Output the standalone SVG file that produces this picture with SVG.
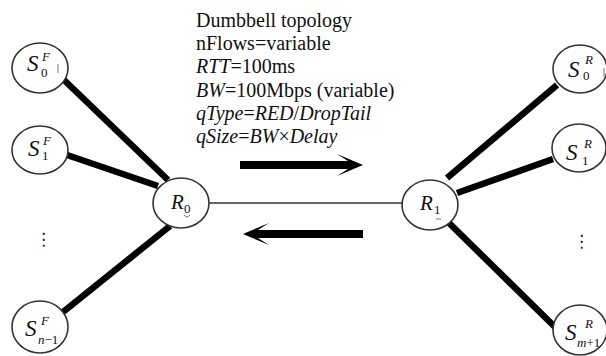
<svg xmlns="http://www.w3.org/2000/svg" width="606" height="356" viewBox="0 0 606 356">
<style>
.node ellipse{fill:#fff;stroke:#333;stroke-width:1.6}
.big{font-family:"Liberation Serif",serif;font-style:italic;font-size:23px;fill:#111}
.rl{font-family:"Liberation Serif",serif;font-style:italic;font-size:21px;fill:#111}
.sup{font-family:"Liberation Serif",serif;font-style:italic;font-size:13px;fill:#111}
.sub{font-family:"Liberation Serif",serif;font-size:13px;fill:#111}
.subi{font-family:"Liberation Serif",serif;font-style:italic;font-size:13px;fill:#111}
.info{font-family:"Liberation Serif",serif;font-size:20px;fill:#111}
.it{font-style:italic}
.thick{stroke:#000;stroke-width:6.5;stroke-linecap:butt}
.thin{stroke:#333;stroke-width:1.5}
.dots{font-family:"DejaVu Sans",sans-serif;font-size:17px;fill:#222}
.art{stroke:#777;stroke-width:1;fill:none}
</style>
<g id="connectors">
<line class="thick" x1="63" y1="79" x2="168" y2="180"/>
<line class="thick" x1="67" y1="155" x2="158" y2="186"/>
<line class="thick" x1="63" y1="312" x2="170" y2="226"/>
<line class="thin" x1="209" y1="203" x2="403" y2="203"/>
<line class="thick" x1="447" y1="178" x2="557" y2="85"/>
<line class="thick" x1="457" y1="193" x2="553" y2="159"/>
<line class="thick" x1="448" y1="222" x2="556" y2="328"/>
</g>
<g id="arrows">
<path d="M240,161 H348 L337,154 L363,165 L337,176 L348,169 H240 Z" fill="#000"/>
<path d="M363,230 H258 L269,223 L243,234 L269,245 L258,238 H363 Z" fill="#000"/>
</g>
<g id="info">
<text class="info" x="196" y="27">Dumbbell topology</text>
<text class="info" x="196" y="50">nFlows=variable</text>
<text class="info" x="196" y="73"><tspan class="it">RTT</tspan>=100ms</text>
<text class="info" x="196" y="97"><tspan class="it">BW</tspan>=100Mbps (variable)</text>
<text class="info" x="196" y="120"><tspan class="it">qType</tspan>=<tspan class="it">RED</tspan>/<tspan class="it">DropTail</tspan></text>
<text class="info" x="196" y="143"><tspan class="it">qSize</tspan>=<tspan class="it">BW</tspan>×<tspan class="it">Delay</tspan></text>
</g>
<g id="S0F" class="node">
<ellipse cx="40" cy="68" rx="28" ry="25"/>
<text class="big" x="27" y="71">S</text>
<text class="sup" x="42" y="61">F</text>
<text class="sub" x="41" y="77">0</text>
<line class="art" x1="58" y1="64" x2="58" y2="73"/>
</g>
<g id="S1F" class="node">
<ellipse cx="40" cy="150" rx="28" ry="24"/>
<text class="big" x="28" y="156">S</text>
<text class="sup" x="43" y="145">F</text>
<text class="sub" x="42" y="160">1</text>
</g>
<g id="Sn1F" class="node">
<ellipse cx="40" cy="327" rx="28" ry="26"/>
<text class="big" x="25" y="336">S</text>
<text class="sup" x="41" y="325">F</text>
<text class="subi" x="38" y="344">n<tspan font-style="normal">−1</tspan></text>
</g>
<g id="R0" class="node">
<ellipse cx="181" cy="203" rx="28" ry="25"/>
<text class="rl" x="171" y="209">R</text>
<text class="sub" x="184" y="213">0</text>
<path class="art" d="M184,215 Q187,219 190,215"/>
</g>
<g id="R1" class="node">
<ellipse cx="430" cy="205" rx="28" ry="25"/>
<text class="rl" x="420" y="210">R</text>
<text class="sub" x="434" y="214">1</text>
<line class="art" x1="436" y1="219" x2="441" y2="219"/>
</g>
<g id="S0R" class="node">
<ellipse cx="580" cy="69" rx="27" ry="24"/>
<text class="big" x="568" y="77">S</text>
<text class="sup" x="585" y="64">R</text>
<text class="sub" x="583" y="80">0</text>
<line class="art" x1="604" y1="68" x2="604" y2="77"/>
</g>
<g id="S1R" class="node">
<ellipse cx="579" cy="148" rx="27" ry="24"/>
<text class="big" x="566" y="160">S</text>
<text class="sup" x="584" y="148">R</text>
<text class="sub" x="582" y="165">1</text>
</g>
<g id="Sm1R" class="node">
<ellipse cx="580" cy="330" rx="27" ry="25"/>
<text class="big" x="565" y="340">S</text>
<text class="sup" x="585" y="328">R</text>
<text class="subi" x="577" y="347">m<tspan font-style="normal">+1</tspan></text>
</g>
<g id="ellipses">
<text class="dots" x="35" y="245">⋮</text>
<text class="dots" x="573" y="247">⋮</text>
</g>
</svg>
